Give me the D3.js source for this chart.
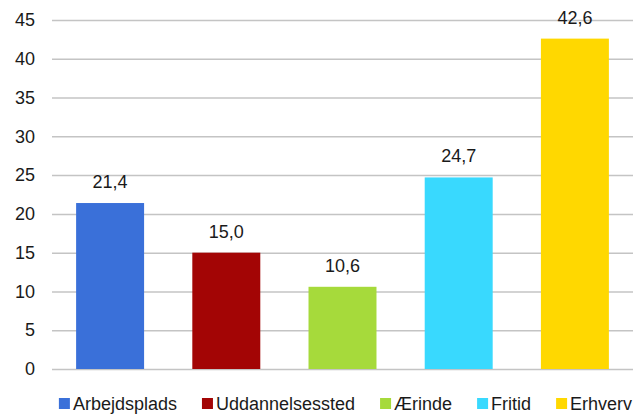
<!DOCTYPE html>
<html><head><meta charset="utf-8">
<script src="https://cdn.jsdelivr.net/npm/d3@7"></script>
<style>body{margin:0;background:#fff}svg{display:block}text{font-family:"Liberation Sans",Arial,sans-serif;fill:#1a1a1a}</style>
</head><body>
<script>
const categories = ["Arbejdsplads","Uddannelsessted","Ærinde","Fritid","Erhverv"];
const values = [21.4, 15.0, 10.6, 24.7, 42.6];
const colors = ["#3A70D9","#A30505","#A6DA3B","#39D9FE","#FFD800"];
const yTicks = [0,5,10,15,20,25,30,35,40,45];

const W=640,H=414;
const m={left:52,right:7,top:20,bottom:45};
const svg=d3.select("body").append("svg").attr("width",W).attr("height",H);
const x=d3.scaleBand().domain(categories).range([m.left,W-m.right]).paddingInner(0.415).paddingOuter(0.2075);
const y=d3.scaleLinear().domain([0,45]).range([H-m.bottom,m.top]);

const yAxis=svg.append("g").attr("transform",`translate(${m.left},0)`)
  .call(d3.axisLeft(y).tickValues(yTicks).tickSize(-(W-m.left-m.right)).tickPadding(17).tickFormat(d3.format("d")));
yAxis.select(".domain").remove();
yAxis.selectAll("line").attr("stroke","#c4c4c4").attr("stroke-width",1.5);
yAxis.selectAll("text").style("font-size","18px").attr("fill","#1a1a1a");

svg.selectAll("rect.bar").data(values).join("rect").attr("class","bar")
  .attr("x",(d,i)=>x(categories[i])).attr("width",x.bandwidth())
  .attr("y",d=>y(d)).attr("height",d=>y(0)-y(d)).attr("fill",(d,i)=>colors[i]);

svg.selectAll("text.val").data(values).join("text").attr("class","val")
  .attr("x",(d,i)=>x(categories[i])+x.bandwidth()/2).attr("y",d=>y(d)-15)
  .attr("text-anchor","middle").style("font-size","18px")
  .text(d=>d3.format(".1f")(d).replace(".",","));

// legend
const lg=svg.append("g");
const items=lg.selectAll("g").data(categories).join("g");
items.append("rect").attr("width",11).attr("height",11).attr("y",-12).attr("fill",(d,i)=>colors[i]);
items.append("text").attr("x",14).attr("y",0).style("font-size","18px").text(d=>d);
let cx=0;const gap=25;
items.each(function(){const w=this.getBBox().width;d3.select(this).attr("transform",`translate(${cx},0)`);cx+=w+gap;});
const total=cx-gap;
lg.attr("transform",`translate(${(m.left+W-m.right)/2-total/2+3},410)`);
</script>
</body></html>
